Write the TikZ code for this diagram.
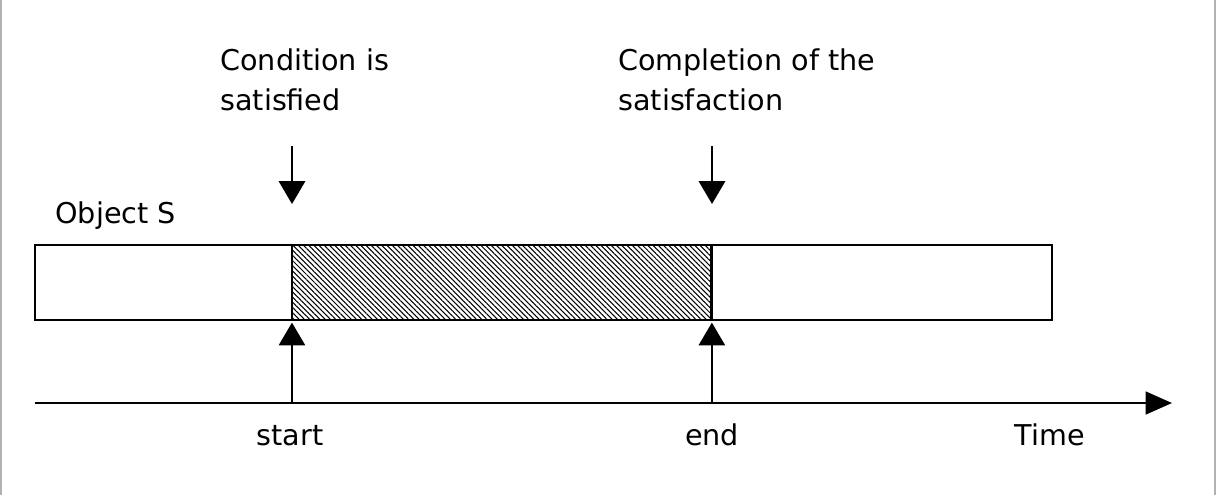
\documentclass[tikz,border=0pt]{standalone}
\usepackage{fontspec}
\setmainfont{DejaVu Sans}
\usetikzlibrary{arrows.meta, positioning, patterns.meta}
\tikzset{
  lbl/.style={inner sep=0pt, font=\fontsize{16.3}{23}\selectfont},
  note/.style={lbl, align=left, anchor=north west},
  seg/.style={draw, line width=1.1pt, minimum height=1.5cm, inner sep=0pt, outer sep=0pt},
  hatch/.style={seg, pattern={Lines[angle=-45, distance=2.1pt, line width=0.6pt]}},
  arr/.style={-{Triangle[length=13pt, width=15pt]}, line width=1.1pt},
  axis/.style={-{Triangle[length=15pt, width=13pt]}, line width=1.1pt},
}

\begin{document}
\begin{tikzpicture}[x=0.02cm, y=-0.02cm]
    \useasboundingbox (0,0) rectangle (1224,495);
    \draw[gray!60, line width=1pt] (1,0) -- (1,495);
    \draw[gray!60, line width=1pt] (1215,0) -- (1215,495);
    % the object bar
    \node[seg, minimum width=5.14cm, anchor=north west] (pre) at (35,245) {};
    \node[hatch, minimum width=8.4cm, right=0pt of pre] (sat) {};
    \node[seg, minimum width=6.8cm, right=0pt of sat] (post) {};
    \draw[line width=1.6pt] (sat.north west) -- (sat.south west);
    \draw[line width=1.6pt] (sat.north east) -- (sat.south east);
    \node[lbl, anchor=base west] (obj) at (55,223) {Object S};
    % events
    \node[note] (cond) at (220,48) {Condition is\\satisfied};
    \node[note] (compl) at (618,48) {Completion of the\\satisfaction};
    \coordinate (ca) at (292,146);
    \coordinate (cb) at (292,204);
    \coordinate (pa) at (712,146);
    \coordinate (pb) at (712,204);
    \draw[arr] (ca) -- (cb);
    \draw[arr] (pa) -- (pb);
    % time axis
    \coordinate (t0) at (35,403);
    \coordinate (t1) at (1172,403);
    \draw[axis] (t0) -- (t1);
    \draw[arr, shorten >=1.5pt] (sat.south west |- t0) -- (sat.south west);
    \draw[arr, shorten >=1.5pt] (sat.south east |- t0) -- (sat.south east);
    \node[lbl, anchor=base] (start) at (290,445) {start};
    \node[lbl, anchor=base] (stop) at (712,445) {end};
    \node[lbl, anchor=base] (time) at (1050,445) {Time};
  \end{tikzpicture}
\end{document}
